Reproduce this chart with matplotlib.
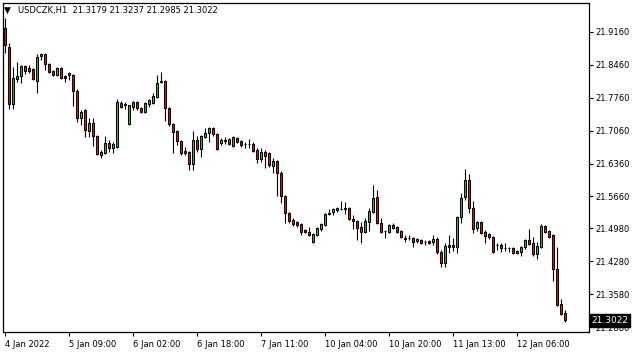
import matplotlib
matplotlib.use("Agg")
import matplotlib.pyplot as plt

# USDCZK H1 candles
opens = [
    21.9246, 21.8841, 21.7628, 21.8160, 21.8224, 21.8437, 21.8395, 21.8373, 21.8118, 21.8649,
    21.8692, 21.8479, 21.8331, 21.8246, 21.8395, 21.8224, 21.8288, 21.8246, 21.7905, 21.7331,
    21.7501, 21.7054, 21.7224, 21.6947, 21.6544, 21.6586, 21.6798, 21.6693, 21.6714, 21.7649,
    21.7628, 21.7203, 21.7564, 21.7670, 21.7543, 21.7458, 21.7628, 21.7649, 21.7777, 21.8118,
    21.8118, 21.7543, 21.7203, 21.7054, 21.6841, 21.6629, 21.6607, 21.6352, 21.6862, 21.6671,
    21.6926, 21.7011, 21.7118, 21.6990, 21.6798, 21.6862, 21.6883, 21.6735, 21.6905, 21.6841,
    21.6777, 21.6777, 21.6777, 21.6650, 21.6458, 21.6607, 21.6586, 21.6310, 21.6416, 21.6160,
    21.5671, 21.5309, 21.5160, 21.5118, 21.5075, 21.4947, 21.4904, 21.4692, 21.4841, 21.4968,
    21.5054, 21.5309, 21.5330, 21.5373, 21.5394, 21.5394, 21.5416, 21.5181, 21.5139, 21.5011,
    21.4904, 21.5118, 21.5330, 21.5649, 21.5096, 21.4926, 21.4904, 21.5054, 21.5011, 21.4926,
    21.4777, 21.4777, 21.4777, 21.4756, 21.4735, 21.4692, 21.4713, 21.4692, 21.4756, 21.4480,
    21.4245, 21.4629, 21.4629, 21.4586, 21.5224, 21.5649, 21.6011, 21.5416, 21.4990, 21.5118,
    21.4904, 21.4862, 21.4798, 21.4629, 21.4629, 21.4565, 21.4565, 21.4565, 21.4458, 21.4479,
    21.4586, 21.4735, 21.4671, 21.4437, 21.4586, 21.5032, 21.4926, 21.4841, 21.4118, 21.3373,
    21.3179]
highs = [
    21.9459, 21.8926, 21.8416, 21.8521, 21.8458, 21.8458, 21.8458, 21.8395, 21.8692, 21.8713,
    21.8713, 21.8500, 21.8352, 21.8416, 21.8416, 21.8246, 21.8309, 21.8267, 21.7947, 21.7501,
    21.7522, 21.7331, 21.7331, 21.6968, 21.6650, 21.6947, 21.6862, 21.6819, 21.7734, 21.7692,
    21.7670, 21.7607, 21.7692, 21.7692, 21.7564, 21.7670, 21.7734, 21.7862, 21.8246, 21.8309,
    21.8139, 21.7564, 21.7224, 21.7075, 21.6862, 21.6714, 21.6629, 21.7054, 21.6947, 21.6968,
    21.7118, 21.7139, 21.7139, 21.7011, 21.6905, 21.6926, 21.6905, 21.6947, 21.6926, 21.6862,
    21.6819, 21.6883, 21.6819, 21.6693, 21.6693, 21.6650, 21.6607, 21.6480, 21.6437, 21.6203,
    21.5692, 21.5330, 21.5203, 21.5139, 21.5096, 21.4968, 21.5011, 21.4883, 21.5011, 21.5096,
    21.5309, 21.5394, 21.5416, 21.5437, 21.5564, 21.5543, 21.5437, 21.5266, 21.5160, 21.5118,
    21.5203, 21.5416, 21.5905, 21.5798, 21.5203, 21.4947, 21.5075, 21.5096, 21.5032, 21.4947,
    21.4841, 21.4841, 21.4798, 21.4777, 21.4756, 21.4735, 21.4735, 21.4841, 21.4798, 21.4522,
    21.4671, 21.4841, 21.4777, 21.5245, 21.5735, 21.6245, 21.6139, 21.5564, 21.5139, 21.5139,
    21.4947, 21.4883, 21.4820, 21.4671, 21.4671, 21.4671, 21.4586, 21.4586, 21.4522, 21.4607,
    21.4756, 21.4968, 21.4798, 21.4692, 21.5075, 21.5054, 21.4947, 21.4862, 21.4586, 21.3479,
    21.3237]
lows = [
    21.8713, 21.7522, 21.7522, 21.8096, 21.8075, 21.8267, 21.8288, 21.8139, 21.7862, 21.8564,
    21.8352, 21.8288, 21.8224, 21.8224, 21.8160, 21.8096, 21.8139, 21.7586, 21.7245, 21.7182,
    21.6926, 21.6926, 21.6735, 21.6544, 21.6480, 21.6565, 21.6607, 21.6586, 21.6693, 21.7543,
    21.7522, 21.7182, 21.7501, 21.7501, 21.7437, 21.7437, 21.7564, 21.7628, 21.7756, 21.8075,
    21.7267, 21.7160, 21.6586, 21.6756, 21.6544, 21.6544, 21.6224, 21.6224, 21.6607, 21.6501,
    21.6905, 21.6819, 21.6947, 21.6650, 21.6756, 21.6777, 21.6756, 21.6714, 21.6798, 21.6714,
    21.6693, 21.6693, 21.6607, 21.6373, 21.6394, 21.6267, 21.6288, 21.6160, 21.5671, 21.5522,
    21.5096, 21.5096, 21.5032, 21.5011, 21.4841, 21.4883, 21.4820, 21.4671, 21.4820, 21.4926,
    21.5032, 21.5266, 21.5266, 21.5330, 21.5373, 21.5288, 21.5160, 21.4968, 21.4735, 21.4671,
    21.4883, 21.4926, 21.5309, 21.5075, 21.4883, 21.4777, 21.4883, 21.4968, 21.4883, 21.4777,
    21.4692, 21.4735, 21.4586, 21.4671, 21.4650, 21.4629, 21.4650, 21.4629, 21.4437, 21.4160,
    21.4160, 21.4458, 21.4501, 21.4458, 21.5096, 21.5586, 21.5309, 21.4883, 21.4926, 21.4862,
    21.4671, 21.4756, 21.4458, 21.4522, 21.4479, 21.4501, 21.4479, 21.4437, 21.4437, 21.4394,
    21.4543, 21.4629, 21.4394, 21.4330, 21.4565, 21.4883, 21.4777, 21.3862, 21.3330, 21.3139,
    21.2985]
closes = [
    21.8884, 21.7628, 21.8182, 21.8224, 21.8437, 21.8331, 21.8331, 21.8160, 21.8628, 21.8692,
    21.8479, 21.8309, 21.8246, 21.8395, 21.8182, 21.8182, 21.8246, 21.7905, 21.7331, 21.7458,
    21.7075, 21.7224, 21.6947, 21.6565, 21.6607, 21.6798, 21.6693, 21.6777, 21.7670, 21.7564,
    21.7607, 21.7607, 21.7670, 21.7543, 21.7458, 21.7649, 21.7713, 21.7798, 21.8075, 21.8096,
    21.7543, 21.7203, 21.7032, 21.6841, 21.6586, 21.6586, 21.6352, 21.6862, 21.6671, 21.6947,
    21.7011, 21.7118, 21.6990, 21.6671, 21.6862, 21.6841, 21.6777, 21.6926, 21.6819, 21.6756,
    21.6767, 21.6771, 21.6629, 21.6458, 21.6607, 21.6522, 21.6331, 21.6416, 21.6160, 21.5671,
    21.5309, 21.5139, 21.5075, 21.5054, 21.4904, 21.4904, 21.4841, 21.4862, 21.4990, 21.5075,
    21.5288, 21.5288, 21.5394, 21.5416, 21.5390, 21.5416, 21.5181, 21.5139, 21.4990, 21.4904,
    21.5139, 21.5352, 21.5628, 21.5096, 21.4904, 21.4920, 21.5054, 21.4990, 21.4904, 21.4798,
    21.4756, 21.4772, 21.4692, 21.4713, 21.4671, 21.4688, 21.4671, 21.4756, 21.4480, 21.4245,
    21.4607, 21.4586, 21.4586, 21.5224, 21.5628, 21.6011, 21.5416, 21.4968, 21.5118, 21.4883,
    21.4820, 21.4798, 21.4479, 21.4625, 21.4565, 21.4561, 21.4561, 21.4458, 21.4501, 21.4586,
    21.4735, 21.4650, 21.4437, 21.4607, 21.5032, 21.4904, 21.4798, 21.4118, 21.3352, 21.3160,
    21.3022]

# axis labels
time_labels = ["4 Jan 2022", "5 Jan 09:00", "6 Jan 02:00", "6 Jan 18:00", "7 Jan 11:00",
               "10 Jan 04:00", "10 Jan 20:00", "11 Jan 13:00", "12 Jan 06:00"]
time_label_bars = [0, 16, 32, 48, 64, 80, 96, 112, 128]
price_ticks = [21.9160, 21.8460, 21.7760, 21.7060, 21.6360, 21.5660, 21.4980, 21.4280, 21.3580, 21.2880]

plt.rcParams['font.family'] = ['DejaVu Sans']
fig = plt.figure(figsize=(6.35, 3.52), dpi=100)
ax = fig.add_axes([3/635, 20/352, 586/635, 329/352])

x = list(range(len(opens)))
up = [c >= o for o, c in zip(opens, closes)]
colors = ["#32b432" if u else "#dc1414" for u in up]
bottoms = [min(o, c) for o, c in zip(opens, closes)]
heights = [max(abs(c - o), 0.0002) for o, c in zip(opens, closes)]

# wicks then bodies
ax.vlines(x, lows, highs, color="black", linewidth=0.8, zorder=2)
ax.bar(x, heights, bottom=bottoms, width=0.7, color=colors, edgecolor="black",
       linewidth=0.75, zorder=3)

ax.set_xlim(-0.5, 146.0)
ax.set_ylim(21.2777, 21.9777)

ax.yaxis.tick_right()
ax.set_yticks(price_ticks)
ax.set_yticklabels(["%.4f" % p for p in price_ticks])
ax.set_xticks(time_label_bars)
ax.set_xticklabels(time_labels, ha="left")
ax.tick_params(axis="both", direction="out", length=3, width=0.8, labelsize=6,
               colors="black", pad=1.5)
ax.tick_params(axis="x", pad=3)
for s in ax.spines.values():
    s.set_linewidth(0.9)

# last price box
ax.text(1.004, closes[-1], "%.4f" % closes[-1], transform=ax.get_yaxis_transform(),
        color="white", fontsize=6.5, va="center", ha="left", zorder=10, clip_on=False,
        bbox=dict(boxstyle="square,pad=0.2", facecolor="black", edgecolor="black"))

# header
fig.text(4/635, 1 - 10/352, "\u25bc", fontsize=6.5, va="center", ha="left")
fig.text(18/635, 1 - 10/352,
         "USDCZK,H1  %.4f %.4f %.4f %.4f" % (opens[-1], highs[-1], lows[-1], closes[-1]),
         fontsize=6, va="center", ha="left")

fig.savefig("out.png", dpi=100, facecolor="white")
